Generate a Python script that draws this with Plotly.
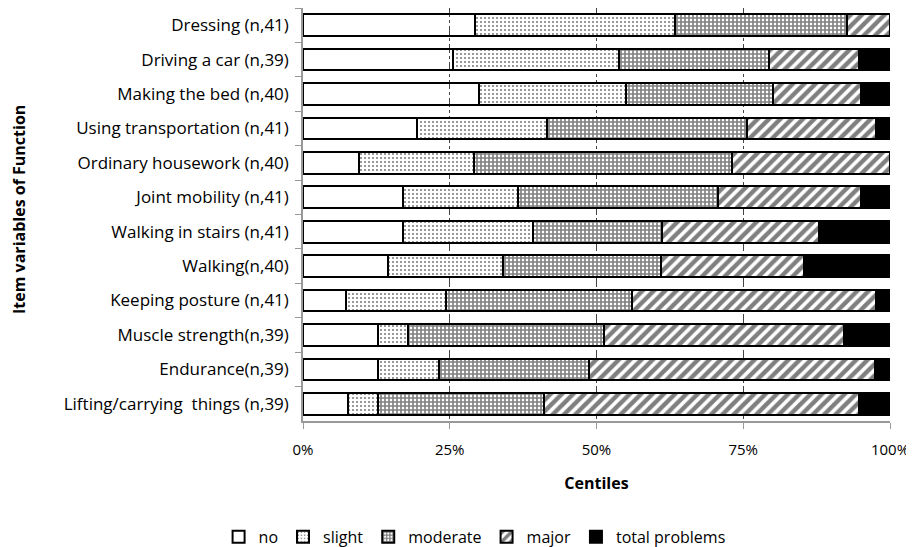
import plotly.graph_objects as go

categories = ["Dressing (n,41)", "Driving a car (n,39)", "Making the bed (n,40)",
              "Using transportation (n,41)", "Ordinary housework (n,40)",
              "Joint mobility (n,41)", "Walking in stairs (n,41)", "Walking(n,40)",
              "Keeping posture (n,41)", "Muscle strength(n,39)", "Endurance(n,39)",
              "Lifting/carrying  things (n,39)"]

no_vals       = [29.3, 25.6, 30.0, 19.5, 9.6, 17.1, 17.1, 14.4, 7.3, 12.8, 12.8, 7.7]
slight_vals   = [34.1, 28.2, 25.0, 22.0, 19.6, 19.5, 22.0, 19.6, 17.1, 5.1, 10.3, 5.1]
moderate_vals = [29.3, 25.6, 25.0, 34.1, 43.8, 34.1, 22.0, 27.0, 31.7, 33.3, 25.6, 28.2]
major_vals    = [7.3, 15.4, 15.0, 22.0, 27.0, 24.4, 26.8, 24.3, 41.5, 41.0, 48.7, 53.8]
total_vals    = [0.0, 5.1, 5.0, 2.4, 0.0, 4.9, 12.2, 14.7, 2.4, 7.7, 2.6, 5.1]

x_tickvals = [0, 25, 50, 75, 100]
x_ticktext = ["0%", "25%", "50%", "75%", "100%"]

series = [
    ("no", no_vals, dict(color="rgba(255,255,255,0)")),
    ("slight", slight_vals, dict(color="white", pattern=dict(shape=".", fgcolor="black", bgcolor="white", size=4, solidity=0.22))),
    ("moderate", moderate_vals, dict(color="white", pattern=dict(shape="+", fgcolor="black", bgcolor="white", size=4, solidity=0.65))),
    ("major", major_vals, dict(color="white", pattern=dict(shape="/", fgcolor="black", bgcolor="white", size=8, solidity=0.55))),
    ("total problems", total_vals, dict(color="black")),
]

FONT = "'Open Sans', Lato, sans-serif"

# page has an 8px body margin; figure is laid out accordingly
fig = go.Figure()
for name, vals, mk in series:
    mk = dict(mk)
    mk["line"] = dict(color="black", width=2)
    fig.add_trace(go.Bar(y=categories, x=vals, name=name, orientation="h", marker=mk))

fig.update_layout(
    barmode="stack",
    bargap=0.37,
    width=906, height=547,
    margin=dict(l=295, r=24, t=0, b=134, autoexpand=False),
    paper_bgcolor="white", plot_bgcolor="white",
    font=dict(family=FONT, size=16, color="black"),
    showlegend=True,
    legend=dict(orientation="h", xref="container", yref="container", x=0.515, y=0.033,
                xanchor="center", yanchor="middle", font=dict(size=16, family=FONT),
                traceorder="normal", itemwidth=30, tracegroupgap=0),
    xaxis=dict(range=[0, 100], tickvals=x_tickvals, ticktext=x_ticktext,
               showgrid=True, gridcolor="#444", griddash="dashdot", gridwidth=1,
               showline=True, linecolor="#999", linewidth=1.5,
               ticks="outside", ticklen=6, tickcolor="#999", ticklabelstandoff=8,
               tickfont=dict(size=15), zeroline=False, automargin=False,
               title=dict(text="<b>Centiles</b>", font=dict(size=16), standoff=20)),
    yaxis=dict(categoryorder="array", categoryarray=categories, autorange="reversed",
               showline=True, linecolor="#999", linewidth=1.5,
               ticks="outside", tickson="boundaries", ticklen=6, tickcolor="#999",
               ticklabelstandoff=9,
               tickfont=dict(size=17), showgrid=False, automargin=False),
    annotations=[dict(text="<b>Item variables of Function</b>", textangle=-90,
                      xref="paper", yref="paper", x=(19 - 303) / 587, y=0.511,
                      xanchor="center", yanchor="middle", showarrow=False,
                      font=dict(size=16, family=FONT))],
)

fig.write_html("out.html")
